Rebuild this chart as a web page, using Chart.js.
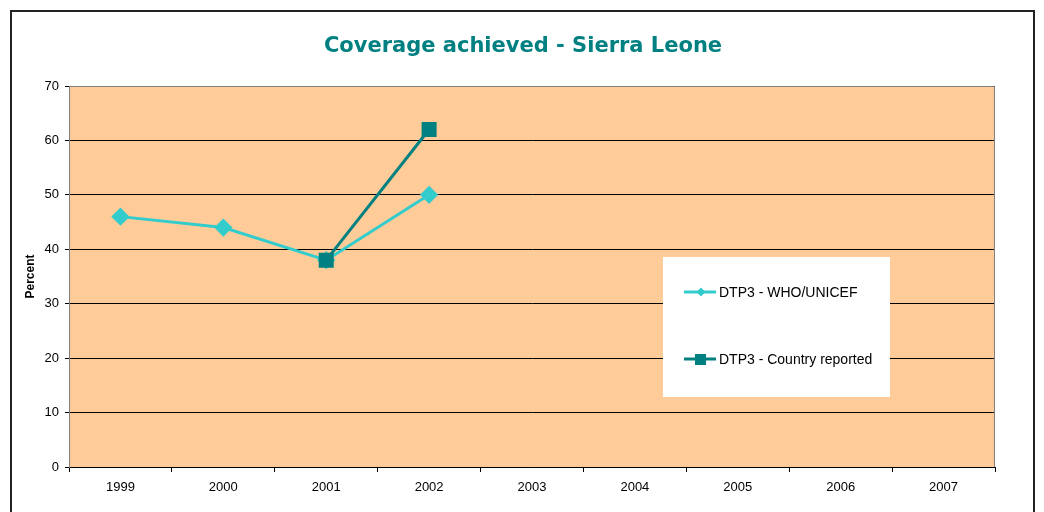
<!DOCTYPE html>
<html>
<head>
<meta charset="utf-8">
<script src="https://cdn.jsdelivr.net/npm/chart.js@4"></script>
<style>
  body { margin: 0; background: #fff; }
  #wrap { position: relative; width: 1044px; height: 512px; }
  #frame { position: absolute; left: 10px; top: 10px; width: 1025px; height: 520px;
           border: 2px solid #222; box-sizing: border-box; pointer-events: none; }
</style>
</head>
<body>
<div id="wrap">
  <canvas id="myChart" width="1044" height="512"></canvas>
  <div id="frame"></div>
</div>
<script>
// chart data
const years = ['1999', '2000', '2001', '2002', '2003', '2004', '2005', '2006', '2007'];
const whoUnicef = [46, 44, 38, 50, null, null, null, null, null];
const countryReported = [null, null, 38, 62, null, null, null, null, null];
const seriesNames = ['DTP3 - WHO/UNICEF', 'DTP3 - Country reported'];
const chartTitle = 'Coverage achieved - Sierra Leone';

const ctx = document.getElementById('myChart').getContext('2d');

// peach plot background + grey frame
const plotArea = {
  id: 'plotArea',
  beforeDraw(chart) {
    const { ctx, chartArea: a } = chart;
    ctx.save();
    ctx.fillStyle = '#FFCC99';
    ctx.fillRect(a.left, a.top, a.right - a.left, a.bottom - a.top);
    ctx.restore();
  },
  afterDatasetsDraw(chart) {
    const { ctx, chartArea: a } = chart;
    ctx.save();
    ctx.strokeStyle = '#808080';
    ctx.lineWidth = 1;
    ctx.beginPath();
    ctx.moveTo(a.left + 0.5, a.top + 0.5);
    ctx.lineTo(a.right - 0.5, a.top + 0.5);
    ctx.lineTo(a.right - 0.5, a.bottom);
    ctx.stroke();
    ctx.restore();
  }
};

// title centred on the whole frame, not the plot
const pageTitle = {
  id: 'pageTitle',
  afterDraw(chart) {
    const { ctx } = chart;
    ctx.save();
    ctx.font = 'bold 21px "DejaVu Sans", Verdana, sans-serif';
    ctx.fillStyle = '#008080';
    ctx.textAlign = 'center';
    ctx.textBaseline = 'middle';
    ctx.fillText(chartTitle, 523, 47);
    ctx.restore();
  }
};

// white legend box inside the plot
const boxLegend = {
  id: 'boxLegend',
  afterDraw(chart) {
    const { ctx } = chart;
    const x = 663, y = 257, w = 227, h = 140;
    ctx.save();
    ctx.fillStyle = '#fff';
    ctx.fillRect(x, y, w, h);
    ctx.font = '14px "Liberation Sans", Arial, sans-serif';
    ctx.textBaseline = 'middle';
    chart.data.datasets.forEach((ds, i) => {
      const ly = i === 0 ? 292 : 359;
      ctx.strokeStyle = ds.borderColor;
      ctx.lineWidth = 3;
      ctx.beginPath();
      ctx.moveTo(684, ly);
      ctx.lineTo(716, ly);
      ctx.stroke();
      ctx.fillStyle = ds.borderColor;
      if (ds.pointStyle === 'rect') {
        ctx.fillRect(695, ly - 5, 11, 11);
      } else {
        ctx.beginPath();
        ctx.moveTo(701, ly - 4.5);
        ctx.lineTo(705.5, ly);
        ctx.lineTo(701, ly + 4.5);
        ctx.lineTo(696.5, ly);
        ctx.closePath();
        ctx.fill();
      }
      ctx.fillStyle = '#000';
      ctx.fillText(ds.label, 719, ly + 1);
    });
    ctx.restore();
  }
};

const myChart = new Chart(ctx, {
  type: 'line',
  data: {
    labels: years,
    datasets: [
      {
        label: seriesNames[0],
        data: whoUnicef,
        borderColor: '#33CCCC',
        backgroundColor: '#33CCCC',
        borderWidth: 3,
        pointStyle: 'rectRot',
        pointRadius: 7,
        pointHoverRadius: 7,
        order: 1,
      },
      {
        label: seriesNames[1],
        data: countryReported,
        borderColor: '#008080',
        backgroundColor: '#008080',
        borderWidth: 3,
        pointStyle: 'rect',
        pointRadius: 8.5,
        pointHoverRadius: 8.5,
        order: 0,
      },
    ],
  },
  options: {
    responsive: false,
    animation: false,
    layout: { padding: { left: 10, right: 49, top: 86, bottom: 0 } },
    plugins: {
      legend: { display: false },
      tooltip: { enabled: false },
      title: { display: false },
    },
    scales: {
      x: {
        offset: true,
        grid: { offset: true, drawOnChartArea: false, color: '#000', tickLength: 5, tickColor: '#000' },
        border: { color: '#000', width: 1 },
        ticks: { color: '#000', padding: 8, maxRotation: 0,
                 font: { family: '"Liberation Sans", Arial, sans-serif', size: 13 } },
        afterFit(scale) { scale.height = 45; },
      },
      y: {
        min: 0,
        max: 70,
        ticks: { stepSize: 10, color: '#000', padding: 6,
                 font: { family: '"Liberation Sans", Arial, sans-serif', size: 13 } },
        grid: { color: '#000', tickLength: 4, tickColor: '#000' },
        border: { color: '#808080', width: 1 },
        title: { display: true, text: 'Percent', color: '#000', padding: { top: 13, bottom: 0 },
                 font: { family: '"Liberation Sans", Arial, sans-serif', size: 12, weight: 'bold' } },
        afterFit(scale) { scale.width = 59; },
      },
    },
  },
  plugins: [plotArea, pageTitle, boxLegend],
});
</script>
</body>
</html>
